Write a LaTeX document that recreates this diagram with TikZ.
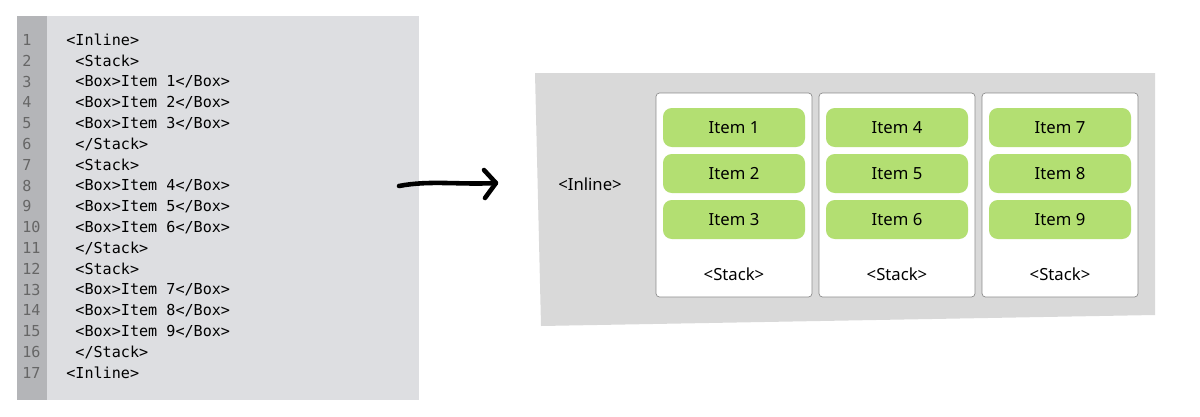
\documentclass[tikz,border=0pt]{standalone}
\usepackage{fontspec}
\setmainfont{Noto Sans}
\newfontfamily\codefont{DejaVu Sans Mono}
\definecolor{codebg}{HTML}{DDDEE1}
\definecolor{gutter}{HTML}{B4B5B8}
\definecolor{panel}{HTML}{D9D9D9}
\definecolor{itemgreen}{HTML}{B3DF72}
\tikzset{
  code/.style={anchor=west, inner sep=0pt, font=\codefont\fontsize{8.6}{10}\selectfont},
  lnum/.style={anchor=west, inner sep=0pt, text=black!60, font=\codefont\fontsize{8.6}{10}\selectfont},
  stack/.style={draw=black!45, fill=white, rounded corners=2pt, minimum width=156*0.02cm, minimum height=204*0.02cm, inner sep=0pt},
  item/.style={fill=itemgreen, rounded corners=5pt, minimum width=142*0.02cm, minimum height=39*0.02cm, inner sep=0pt, font=\fontsize{9.5}{11}\selectfont},
  tag/.style={inner sep=0pt, font=\fontsize{9.5}{11}\selectfont}
}
\begin{document}
\begin{tikzpicture}[x=0.02cm, y=-0.02cm]
  \useasboundingbox (0,0) rectangle (1200,416);
  % code panel
  \fill[codebg] (17,16) rectangle (419,400);
  \fill[gutter] (17,16) rectangle (47,400);
  \foreach \n/\t [count=\i] in {1/{<Inline>},2/{ <Stack>},3/{  <Box>Item 1</Box>},4/{  <Box>Item 2</Box>},
      5/{  <Box>Item 3</Box>},6/{ </Stack>},7/{ <Stack>},8/{  <Box>Item 4</Box>},9/{  <Box>Item 5</Box>},
      10/{  <Box>Item 6</Box>},11/{ </Stack>},12/{ <Stack>},13/{  <Box>Item 7</Box>},14/{  <Box>Item 8</Box>},
      15/{  <Box>Item 9</Box>},16/{ </Stack>},17/{<Inline>}} {
    \node[lnum] (n\n) at (22,{40+(\i-1)*20.8}) {\n};
    \node[code] (c\n) at (66,{40+(\i-1)*20.8}) {\obeyspaces\t};
  }
  % arrow
  \coordinate (a0) at (399,186);
  \coordinate (a1) at (496,183);
  \draw[line width=2.6pt, line cap=round] (a0) .. controls (430,180) and (460,185) .. (a1);
  \draw[line width=2.6pt, line cap=round, line join=round] (484,170) -- (a1) -- (485,198);
  % inline panel
  \fill[panel] (535,73) -- (1155,73) -- (1155,315) -- (541,326) -- cycle;
  \node[tag] (inline) at (590,184) {<Inline>};
  \foreach \s/\x in {1/734,2/897,3/1060} {
    \node[stack] (s\s) at (\x,195) {};
    \node[tag] (st\s) at (\x,274) {<Stack>};
    \foreach \k in {1,2,3} {
      \pgfmathtruncatemacro\num{(\s-1)*3+\k}
      \node[item] (i\num) at (\x,{127.5+(\k-1)*46}) {Item \num};
    }
  }
\end{tikzpicture}
\end{document}
